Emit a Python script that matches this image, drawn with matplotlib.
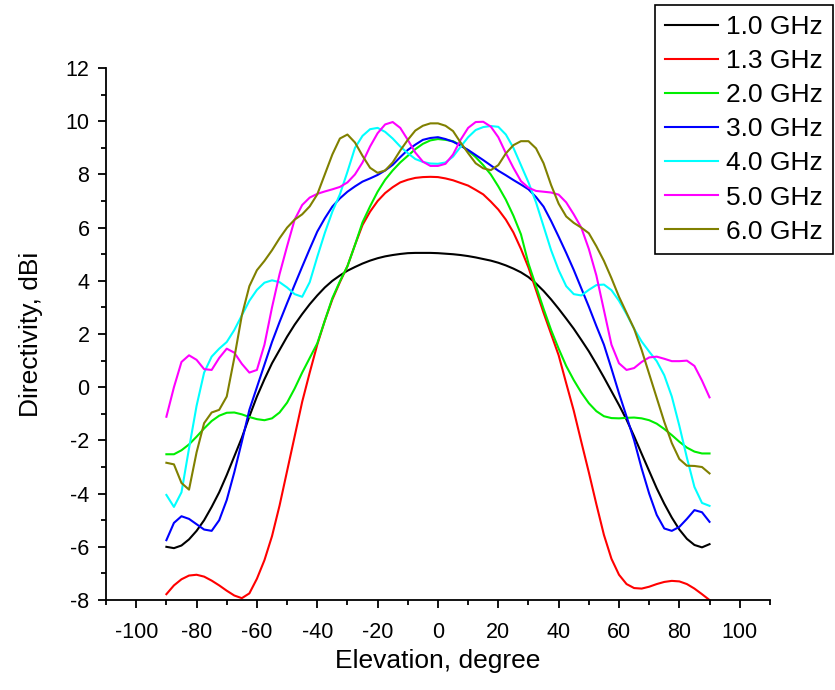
import numpy as np
import matplotlib
matplotlib.use('Agg')
import matplotlib.pyplot as plt

plt.rcParams['font.family'] = ['Liberation Sans', 'DejaVu Sans']
plt.rcParams['axes.unicode_minus'] = False

# elevation angles, degree (2.5 deg step, -90 .. 90)
elevation = np.arange(-90, 90.1, 2.5)

# directivity, dBi
d_1_0 = [-6.0, -6.05, -5.95, -5.72, -5.4, -5.0, -4.5, -3.95, -3.3, -2.6, -1.9, -1.1, -0.35, 0.3, 0.9, 1.4, 1.9, 2.35,
         2.75, 3.12, 3.45, 3.75, 4.0, 4.2, 4.38, 4.52, 4.65, 4.76, 4.85, 4.92, 4.97, 5.01, 5.04, 5.05, 5.05, 5.05, 5.04,
         5.02, 5.0, 4.97, 4.93, 4.88, 4.82, 4.76, 4.68, 4.58, 4.46, 4.32, 4.14, 3.9, 3.62, 3.3, 2.95, 2.58, 2.2,
         1.78, 1.35, 0.87, 0.37, -0.15, -0.67, -1.22, -1.84, -2.5, -3.15, -3.8, -4.38, -4.9, -5.35, -5.7, -5.93, -6.02, -5.9]
d_1_3 = [-7.78, -7.45, -7.22, -7.08, -7.05, -7.12, -7.27, -7.45, -7.65, -7.83, -7.93, -7.75, -7.2, -6.5, -5.6, -4.45, -3.15, -1.85,
         -0.55, 0.55, 1.6, 2.5, 3.3, 3.95, 4.55, 5.35, 6.1, 6.6, 7.0, 7.3, 7.52, 7.7, 7.8, 7.87, 7.9, 7.91, 7.9,
         7.85, 7.78, 7.68, 7.58, 7.42, 7.25, 6.98, 6.68, 6.3, 5.82, 5.2, 4.5, 3.65, 2.8, 2.0, 1.2, 0.15, -0.88,
         -2.05, -3.2, -4.4, -5.55, -6.45, -7.05, -7.4, -7.55, -7.57, -7.5, -7.4, -7.32, -7.28, -7.3, -7.4, -7.57, -7.78, -8.0]
d_2_0 = [-2.52, -2.52, -2.37, -2.15, -1.86, -1.55, -1.27, -1.07, -0.96, -0.95, -1.02, -1.12, -1.2, -1.24, -1.17, -0.95, -0.58, -0.05,
         0.55, 1.1, 1.65, 2.5, 3.35, 3.98, 4.55, 5.35, 6.2, 6.8, 7.35, 7.8, 8.15, 8.45, 8.7, 8.95, 9.15, 9.28, 9.33,
         9.3, 9.25, 9.1, 8.9, 8.65, 8.35, 8.0, 7.55, 7.05, 6.45, 5.75, 4.65, 3.8, 2.95, 2.15, 1.45, 0.8, 0.27,
         -0.2, -0.6, -0.9, -1.09, -1.16, -1.17, -1.15, -1.14, -1.17, -1.24, -1.37, -1.57, -1.8, -2.05, -2.27, -2.42, -2.49, -2.49]
d_3_0 = [-5.75, -5.1, -4.85, -4.95, -5.15, -5.35, -5.4, -5.0, -4.24, -3.2, -2.05, -0.85, 0.0, 0.85, 1.7, 2.45, 3.16, 3.85,
         4.53, 5.2, 5.85, 6.35, 6.79, 7.1, 7.35, 7.55, 7.73, 7.85, 7.98, 8.15, 8.36, 8.65, 8.92, 9.12, 9.3, 9.37, 9.4,
         9.33, 9.23, 9.08, 8.92, 8.73, 8.54, 8.34, 8.14, 7.97, 7.79, 7.62, 7.44, 7.15, 6.79, 6.25, 5.66, 5.05, 4.41,
         3.72, 3.03, 2.3, 1.6, 0.7, -0.23, -1.1, -1.99, -3.05, -4.0, -4.8, -5.31, -5.4, -5.25, -4.95, -4.62, -4.7, -5.06]
d_4_0 = [-4.05, -4.5, -3.95, -2.3, -0.7, 0.55, 1.15, 1.45, 1.7, 2.15, 2.7, 3.25, 3.66, 3.93, 4.02, 3.95, 3.75, 3.5,
         3.4, 3.95, 4.9, 5.8, 6.6, 7.25, 8.1, 9.0, 9.45, 9.7, 9.75, 9.6, 9.35, 9.05, 8.8, 8.58, 8.47, 8.41, 8.4,
         8.45, 8.67, 9.04, 9.4, 9.67, 9.78, 9.82, 9.79, 9.5, 9.0, 8.35, 7.7, 6.95, 6.05, 5.15, 4.4, 3.8, 3.5,
         3.45, 3.66, 3.84, 3.86, 3.65, 3.25, 2.75, 2.2, 1.72, 1.34, 0.98, 0.45, -0.35, -1.45, -2.65, -3.75, -4.35, -4.46]
d_5_0 = [-1.11, 0.0, 0.95, 1.2, 1.03, 0.68, 0.65, 1.1, 1.45, 1.3, 0.88, 0.55, 0.65, 1.6, 3.0, 4.25, 5.3, 6.3,
         6.85, 7.13, 7.27, 7.36, 7.44, 7.53, 7.7, 8.0, 8.45, 9.05, 9.55, 9.88, 9.97, 9.75, 9.3, 8.82, 8.48, 8.32, 8.32,
         8.4, 8.75, 9.3, 9.75, 9.97, 9.98, 9.8, 9.4, 8.8, 8.25, 7.75, 7.5, 7.38, 7.35, 7.32, 7.24, 6.95, 6.5,
         6.0, 5.2, 4.2, 2.9, 1.6, 0.9, 0.65, 0.72, 0.95, 1.12, 1.15, 1.07, 0.98, 0.98, 1.0, 0.8, 0.25, -0.38]
d_6_0 = [-2.84, -2.9, -3.6, -3.85, -2.45, -1.35, -0.95, -0.85, -0.35, 1.1, 2.7, 3.8, 4.4, 4.75, 5.15, 5.6, 6.0, 6.3,
         6.5, 6.8, 7.25, 8.0, 8.75, 9.35, 9.5, 9.2, 8.7, 8.25, 8.06, 8.15, 8.45, 8.9, 9.3, 9.65, 9.83, 9.92, 9.92,
         9.83, 9.63, 9.2, 8.8, 8.42, 8.23, 8.16, 8.35, 8.79, 9.1, 9.25, 9.25, 8.98, 8.42, 7.6, 6.9, 6.42, 6.18,
         6.0, 5.79, 5.3, 4.75, 4.1, 3.4, 2.8, 2.2, 1.4, 0.5, -0.4, -1.3, -2.1, -2.7, -2.95, -2.96, -3.0, -3.24]

series = [
    ('1.0 GHz', d_1_0, '#000000'),
    ('1.3 GHz', d_1_3, '#FF0000'),
    ('2.0 GHz', d_2_0, '#00EE00'),
    ('3.0 GHz', d_3_0, '#0000FF'),
    ('4.0 GHz', d_4_0, '#00FFFF'),
    ('5.0 GHz', d_5_0, '#FF00FF'),
    ('6.0 GHz', d_6_0, '#808000'),
]

fig = plt.figure(figsize=(8.35, 6.9), dpi=100)
ax = fig.add_axes([0.127, 0.1304, 0.795, 0.771])

for label, vals, color in series:
    ax.plot(elevation, vals, color=color, linewidth=1.5, label=label)

ax.set_xlim(-110, 110)
ax.set_ylim(-8, 12)
ax.set_xticks(np.arange(-100, 101, 20))
ax.set_xticks(np.arange(-110, 111, 10), minor=True)
ax.set_yticks(np.arange(-8, 13, 2))
ax.set_yticks(np.arange(-8, 13, 1), minor=True)

for side in ('top', 'right'):
    ax.spines[side].set_visible(False)
for side in ('left', 'bottom'):
    ax.spines[side].set_linewidth(1.3)

ax.tick_params(which='major', direction='out', length=6, width=1.3, labelsize=15.5)
ax.tick_params(which='minor', direction='out', length=3.5, width=1.3)
ax.tick_params(axis='x', which='major', pad=10)
ax.tick_params(axis='y', which='major', pad=6)

ax.set_xlabel('Elevation, degree', fontsize=19, labelpad=4)
ax.set_ylabel('Directivity, dBi', fontsize=19, labelpad=16)

leg = fig.legend(loc='upper left', bbox_to_anchor=(0.784, 0.993),
                 bbox_transform=fig.transFigure, borderaxespad=0,
                 fontsize=19, handlelength=2.0, handletextpad=0.3,
                 labelspacing=0.38, borderpad=0.4, fancybox=False,
                 edgecolor='black', framealpha=1)
leg.get_frame().set_linewidth(1.2)

plt.savefig('out.png', dpi=100)
plt.close()
